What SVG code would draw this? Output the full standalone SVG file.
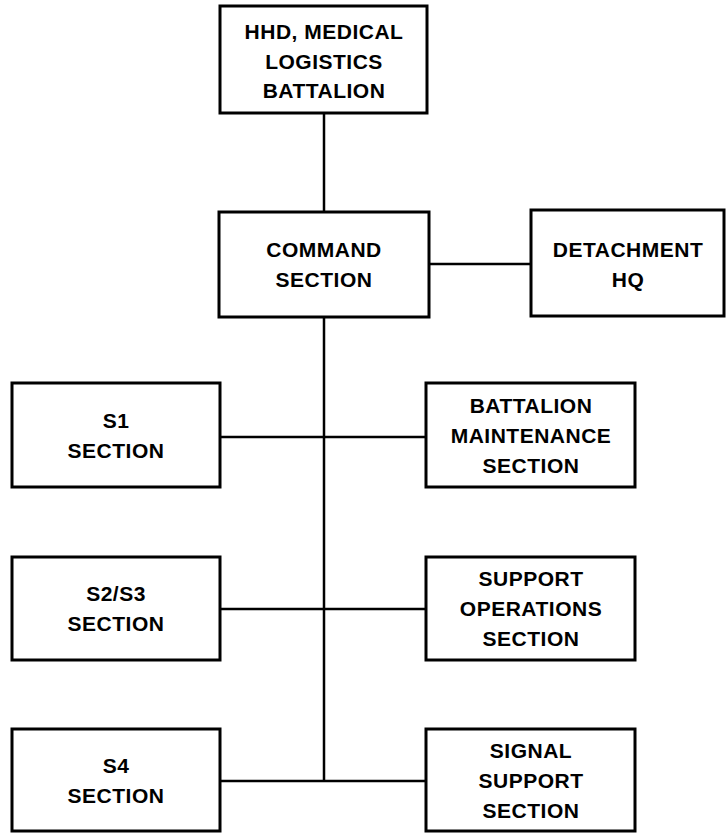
<svg xmlns="http://www.w3.org/2000/svg" width="727" height="833" viewBox="0 0 727 833">
<style>
.box{fill:#fff;stroke:#000;stroke-width:3}
.lbl{font-family:"Liberation Sans",Arial,Helvetica,sans-serif;font-weight:bold;font-size:21px;letter-spacing:0.5px;text-anchor:middle;fill:#000}
.conn{stroke:#000;stroke-width:2.5;fill:none}
</style>
<rect width="727" height="833" fill="#fff"/>
<g id="connectors">
<line class="conn" x1="324" y1="113" x2="324" y2="212"/>
<line class="conn" x1="324" y1="317" x2="324" y2="782"/>
<line class="conn" x1="430" y1="264" x2="531" y2="264"/>
<line class="conn" x1="220" y1="437" x2="426" y2="437"/>
<line class="conn" x1="220" y1="609" x2="426" y2="609"/>
<line class="conn" x1="220" y1="781" x2="426" y2="781"/>
</g>
<g id="hhd">
<rect class="box" x="220" y="6" width="207" height="107"/>
<text class="lbl" x="324" y="39">HHD, MEDICAL</text>
<text class="lbl" x="324" y="69">LOGISTICS</text>
<text class="lbl" x="324" y="98">BATTALION</text>
</g>
<g id="command">
<rect class="box" x="219" y="212" width="210" height="105"/>
<text class="lbl" x="324" y="257">COMMAND</text>
<text class="lbl" x="324" y="287">SECTION</text>
</g>
<g id="detachment">
<rect class="box" x="531" y="210" width="193" height="106"/>
<text class="lbl" x="628" y="257">DETACHMENT</text>
<text class="lbl" x="628" y="287">HQ</text>
</g>
<g id="s1">
<rect class="box" x="12" y="383" width="208" height="104"/>
<text class="lbl" x="116" y="428">S1</text>
<text class="lbl" x="116" y="458">SECTION</text>
</g>
<g id="maintenance">
<rect class="box" x="426" y="383" width="209" height="104"/>
<text class="lbl" x="531" y="413">BATTALION</text>
<text class="lbl" x="531" y="443">MAINTENANCE</text>
<text class="lbl" x="531" y="473">SECTION</text>
</g>
<g id="s2s3">
<rect class="box" x="12" y="557" width="208" height="103"/>
<text class="lbl" x="116" y="601">S2/S3</text>
<text class="lbl" x="116" y="631">SECTION</text>
</g>
<g id="supportops">
<rect class="box" x="426" y="557" width="209" height="103"/>
<text class="lbl" x="531" y="586">SUPPORT</text>
<text class="lbl" x="531" y="616">OPERATIONS</text>
<text class="lbl" x="531" y="646">SECTION</text>
</g>
<g id="s4">
<rect class="box" x="12" y="729" width="208" height="102"/>
<text class="lbl" x="116" y="773">S4</text>
<text class="lbl" x="116" y="803">SECTION</text>
</g>
<g id="signal">
<rect class="box" x="426" y="729" width="209" height="102"/>
<text class="lbl" x="531" y="758">SIGNAL</text>
<text class="lbl" x="531" y="788">SUPPORT</text>
<text class="lbl" x="531" y="818">SECTION</text>
</g>
</svg>
